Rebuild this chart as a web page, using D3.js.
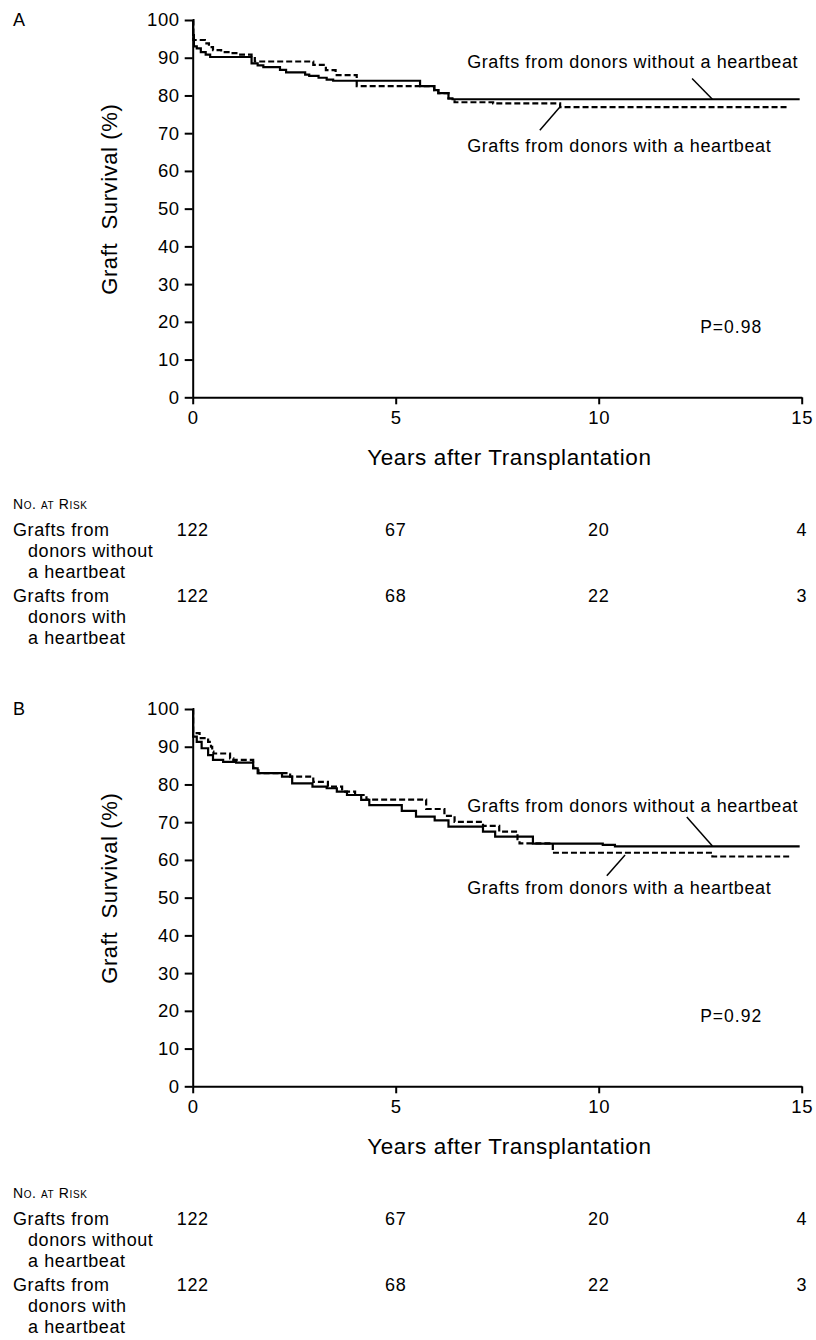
<!DOCTYPE html>
<html>
<head>
<meta charset="utf-8">
<script src="https://cdn.jsdelivr.net/npm/d3@7"></script>
<style>
  body { margin: 0; background: #fff; }
  text { font-family: "Liberation Sans", Arial, sans-serif; fill: #000; letter-spacing: 0.6px; }
</style>
</head>
<body>
<svg id="chart" width="816" height="1340"></svg>
<script>
// ---- data ----
const yearTicks = [0, 5, 10, 15];
const survivalTicks = [0, 10, 20, 30, 40, 50, 60, 70, 80, 90, 100];
const groupNames = ["Grafts from donors without a heartbeat", "Grafts from donors with a heartbeat"];
const riskRowLabels = [["Grafts from", "donors without", "a heartbeat"], ["Grafts from", "donors with", "a heartbeat"]];
const pValues = ["P=0.98", "P=0.92"];

// [years, survival %] step points
const survA_without = [[0,100],[0.01,96],[0.03,93],[0.1,92.5],[0.2,91.5],[0.32,90.8],[0.43,90.2],[1.45,88.5],[1.6,88],[1.74,87.5],
  [2.15,86.8],[2.3,86.1],[2.77,85.5],[2.87,85.2],[3.1,84.7],[3.3,84.2],[3.46,83.9],[5.6,82.5],[5.95,81.4],[6.05,80.6],[6.3,79.2],[6.4,79.0],[14.95,79.0]];
const survA_with = [[0,100],[0.015,94.7],[0.3,93.8],[0.4,92.8],[0.5,92],[0.7,91.5],[0.92,91.2],[1.17,90.8],[1.45,90.3],[1.53,89],
  [2.97,88.1],[3.28,86.7],[3.52,85.4],[4.04,82.5],[5.95,81.4],[6.05,80.6],[6.3,79.2],[6.45,78.2],[7.4,77.9],[9.05,76.9],[14.7,76.9]];
const survB_without = [[0,100],[0.01,92.7],[0.1,91.3],[0.22,89.6],[0.38,87.8],[0.5,86.5],[0.75,86.0],[1.07,85.8],[1.49,84.3],[1.6,83.0],
  [2.2,82.1],[2.45,80.3],[2.95,79.4],[3.3,79.0],[3.55,78.1],[3.8,77.2],[4.15,75.9],[4.35,74.5],[5.15,73.0],[5.5,71.5],[5.96,70.5],
  [6.3,68.8],[7.15,67.5],[7.45,66.2],[8.38,64.3],[10.1,64.0],[10.4,63.6],[14.95,63.6]];
const survB_with = [[0,100],[0.01,93.6],[0.17,92.3],[0.38,91.3],[0.45,90],[0.48,88.7],[0.51,88.2],[0.92,86.9],[1.0,86.5],[1.49,84.3],
  [1.62,83.0],[2.4,82.1],[2.97,80.7],[3.33,79.4],[3.68,78.1],[4.0,77.2],[4.28,76.0],[5.75,73.5],[6.2,71.7],[6.45,70.1],[7.15,69.0],
  [7.55,67.5],[8.0,65.5],[8.05,64.4],[8.87,61.9],[12.8,60.9],[14.7,60.9]];

const riskA_without = [122, 67, 20, 4];
const riskA_with = [122, 68, 22, 3];
const riskB_without = [122, 67, 20, 4];
const riskB_with = [122, 68, 22, 3];

// ---- layout ----
const svg = d3.select("#chart");

const panels = [
  { top: 0, letter: "A", curves: [survA_without, survA_with], risk: [riskA_without, riskA_with], p: pValues[0],
    // annotation anchors in data units [years, %]
    labelAt: [[6.76, 87.3], [6.76, 65.1]], leaders: [[[12.3, 84.5], [12.8, 79.0]], [[8.55, 70.8], [9.05, 77.0]]] },
  { top: 689, letter: "B", curves: [survB_without, survB_with], risk: [riskB_without, riskB_with], p: pValues[1],
    labelAt: [[6.76, 72.8], [6.76, 50.9]], leaders: [[[12.17, 71.4], [12.8, 63.7]], [[10.65, 61.3], [10.2, 55.8]]] }
];

panels.forEach(p => drawPanel(p));

function drawPanel(p) {
  const g = svg.append("g").attr("transform", `translate(0,${p.top})`);
  const x = d3.scaleLinear().domain([0, 15]).range([192.7, 801.7]);
  const y = d3.scaleLinear().domain([0, 100]).range([397.3, 20]);

  g.append("text").attr("x", 13).attr("y", 26).style("font-size", "18px").text(p.letter);

  // axes
  const yAxis = g.append("g").attr("transform", `translate(${x(0)},0)`)
    .call(d3.axisLeft(y).tickValues(survivalTicks).tickSize(8).tickSizeOuter(0).tickPadding(5));
  const xAxis = g.append("g").attr("transform", `translate(0,${y(0)})`)
    .call(d3.axisBottom(x).tickValues(yearTicks).tickSize(7).tickSizeOuter(0).tickPadding(7));
  [yAxis, xAxis].forEach(a => {
    a.attr("font-family", null).attr("font-size", null);
    a.selectAll("path, line").attr("stroke", "#000").attr("stroke-width", 2);
    a.selectAll("text").style("font-size", "18.5px");
  });

  g.append("text").attr("transform", `translate(117,${y(52.5)}) rotate(-90)`)
    .attr("text-anchor", "middle").style("font-size", "22px").style("white-space", "pre")
    .text("Graft  Survival (%)");
  g.append("text").attr("x", x(7.8)).attr("y", 465).attr("text-anchor", "middle")
    .style("font-size", "22.5px").text("Years after Transplantation");

  // survival curves
  const line = d3.line().x(d => x(d[0])).y(d => y(d[1])).curve(d3.curveStepAfter);
  p.curves.forEach((c, i) => {
    g.append("path").datum(c).attr("d", line).attr("fill", "none").attr("stroke", "#000")
      .attr("stroke-width", 2.2).attr("stroke-dasharray", i === 1 ? "6,3" : null);
  });

  // annotations
  groupNames.forEach((name, i) => {
    g.append("text").attr("x", x(p.labelAt[i][0])).attr("y", y(p.labelAt[i][1]))
      .style("font-size", "18px").text(name);
    const l = p.leaders[i];
    g.append("line").attr("x1", x(l[0][0])).attr("y1", y(l[0][1])).attr("x2", x(l[1][0])).attr("y2", y(l[1][1]))
      .attr("stroke", "#000").attr("stroke-width", 1.5);
  });
  g.append("text").attr("x", x(12.5)).attr("y", y(17)).style("font-size", "17.5px")
    .style("letter-spacing", "1px").text(p.p);

  // number at risk table
  g.append("text").attr("x", 13).attr("y", 509).style("font-size", "14px")
    .style("font-variant", "small-caps").text("No. at Risk");
  const rowTop = [536, 602];
  riskRowLabels.forEach((lines, i) => {
    lines.forEach((t, j) => {
      g.append("text").attr("x", j === 0 ? 13 : 28).attr("y", rowTop[i] + j * 21)
        .style("font-size", "18px").text(t);
    });
    g.selectAll(null).data(p.risk[i]).enter().append("text")
      .attr("x", (d, k) => x(yearTicks[k])).attr("y", rowTop[i])
      .attr("text-anchor", "middle").style("font-size", "18px").text(d => d);
  });
}
</script>
</body>
</html>
